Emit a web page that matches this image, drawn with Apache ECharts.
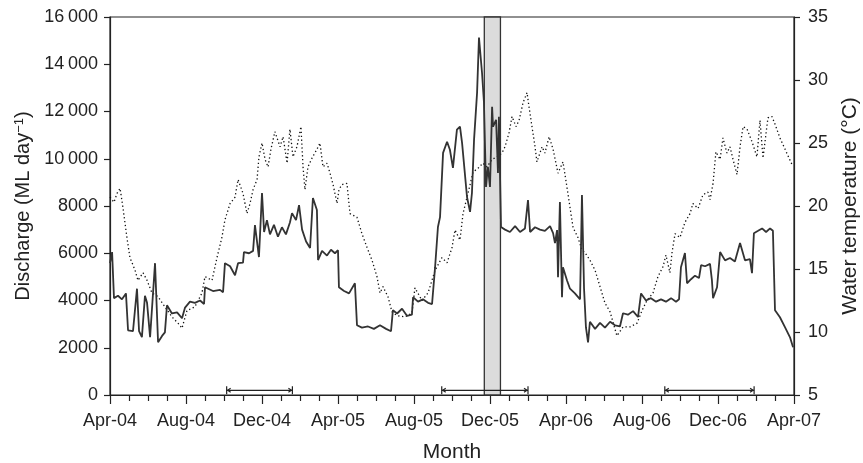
<!DOCTYPE html>
<html>
<head>
<meta charset="utf-8">
<script src="https://cdn.jsdelivr.net/npm/echarts@6/dist/echarts.min.js"></script>
<style>
  html, body { margin: 0; padding: 0; background: #fff; }
  #chart { width: 863px; height: 463px; }
</style>
</head>
<body>
<div id="chart"></div>
<script>
// x values are months elapsed since the start of April 2004
const monthLabels = ['Apr-04', 'Aug-04', 'Dec-04', 'Apr-05', 'Aug-05', 'Dec-05', 'Apr-06', 'Aug-06', 'Dec-06', 'Apr-07'];
const dischargeTickLabels = ['0', '2000', '4000', '6000', '8000', '10\u2009000', '12\u2009000', '14\u2009000', '16\u2009000'];
const temperatureTickLabels = ['5', '10', '15', '20', '25', '30', '35'];

// Daily discharge (ML day^-1)
const dischargeMonth = [
  0.00, 0.11, 0.21, 0.42, 0.63, 0.84, 0.95, 1.21, 1.42, 1.53, 1.68, 1.84, 1.95, 2.11, 2.37, 2.53, 2.74, 2.89,
  3.00, 3.26, 3.53, 3.79, 3.95, 4.21, 4.47, 4.74, 4.95, 5.00, 5.42, 5.79, 5.95,
  6.05, 6.32, 6.58, 6.74, 7.00, 7.05, 7.32, 7.53, 7.63, 7.84, 8.00, 8.11, 8.26, 8.42, 8.63, 8.84,
  9.05, 9.26, 9.47, 9.58, 9.79, 9.95, 10.11, 10.32, 10.53, 10.68, 10.89, 10.95, 11.16, 11.42, 11.63, 11.84, 12.00,
  12.05, 12.32, 12.58, 12.89, 13.00, 13.26, 13.58, 13.89, 14.21, 14.53, 14.79, 14.89, 15.11, 15.37, 15.63, 15.89,
  15.95, 16.21, 16.47, 16.74, 16.95, 17.11, 17.26, 17.37, 17.53, 17.74, 17.89, 18.05, 18.26, 18.42, 18.53,
  18.79, 18.95, 19.05, 19.16, 19.32, 19.42, 19.58, 19.68, 19.79, 19.89, 20.00, 20.11, 20.16, 20.32, 20.42, 20.47, 20.58,
  20.79, 21.05, 21.32, 21.58, 21.84, 22.00, 22.11, 22.37, 22.63, 22.89, 23.16, 23.32, 23.42, 23.53, 23.58, 23.68, 23.79, 23.84,
  24.05, 24.21, 24.47, 24.74, 24.84, 24.95, 25.05, 25.16, 25.26, 25.53, 25.79, 26.05, 26.32, 26.58, 26.84,
  27.00, 27.26, 27.53, 27.79, 27.95, 28.21, 28.47, 28.74, 29.00, 29.26, 29.53, 29.79, 29.95,
  30.05, 30.26, 30.37, 30.58, 30.79, 31.00, 31.11, 31.32, 31.58, 31.68, 31.74, 31.95,
  32.11, 32.37, 32.63, 32.89, 33.16, 33.42, 33.68, 33.79, 33.89, 34.11, 34.32, 34.53, 34.74, 34.89,
  35.00, 35.26, 35.53, 35.79, 35.95
];
const dischargeValue = [
  5580, 6050, 4100, 4200, 4050, 4300, 2740, 2700, 4500, 2700, 2450, 4200, 3900, 2450, 5580, 2230, 2500, 2650,
  3800, 3450, 3500, 3250, 3700, 3950, 3900, 4000, 3850, 4560, 4400, 4450, 4350,
  5580, 5450, 5070, 5580, 5600, 6050, 6000, 6100, 7190, 5840, 8550, 6900, 7400, 6800, 7200, 6700,
  7100, 6800, 7300, 7700, 7400, 8040, 7000, 6500, 6220, 8340, 7830, 5710, 6100, 5900, 6150, 6000, 6130,
  4560, 4400, 4300, 4730, 2950, 2850, 2900, 2800, 2950, 2800, 2700, 3590, 3450, 3650, 3350, 3400,
  4140, 3950, 4050, 3900, 3850, 5410, 7110, 7530, 10250, 10720, 10380, 9610, 11230, 11360, 10670,
  8380, 7750, 8550, 10800, 12800, 15130, 13640, 12410, 8810, 9660, 8810, 12200, 11360, 11650, 9400, 11780, 7110,
  7000, 6900, 7150, 6900, 7050, 8250, 6900, 7100, 7000, 6950, 7150, 6850, 6430, 6980, 4990, 8170, 4140, 5410,
  4860, 4500, 4300, 4050, 8470, 4500, 2860, 2230, 3100, 2800, 3050, 2850, 3100, 2950, 2900,
  3460, 3400, 3550, 3300, 4300, 4000, 4100, 3950, 4050, 3950, 4100, 3950, 4050,
  5410, 6010, 4730, 4900, 5050, 4950, 5500, 5450, 5550, 4860, 4100, 4560,
  6050, 5700, 5800, 5650, 6430, 5700, 5750, 5160, 6850, 6950, 7050, 6900, 7050, 6950,
  3590, 3290, 2860, 2440, 2020
];

// Daily water temperature (°C)
const temperatureMonth = [
  0.00, 0.21, 0.37, 0.53, 0.68, 0.89, 1.05, 1.32, 1.47, 1.74, 1.95, 2.21, 2.53, 2.89, 3.26, 3.58, 3.79,
  4.05, 4.47, 4.84, 5.00, 5.37, 5.63, 5.89, 6.05, 6.32, 6.58, 6.74, 7.00, 7.21, 7.37, 7.53, 7.74, 7.84,
  8.00, 8.16, 8.32, 8.47, 8.68, 8.95, 9.11, 9.32, 9.47, 9.63, 9.84, 10.05, 10.16, 10.26, 10.42, 10.63, 10.89,
  11.05, 11.21, 11.42, 11.58, 11.74, 11.95, 12.05, 12.21, 12.47, 12.63, 13.00, 13.26, 13.53, 13.79, 14.05,
  14.21, 14.37, 14.63, 14.84, 15.11, 15.53, 15.89, 16.05, 16.42, 16.74, 17.11, 17.47, 17.74, 18.00, 18.16,
  18.42, 18.58, 18.84, 19.11, 19.37, 19.63, 19.84, 20.11, 20.37, 20.63, 20.79, 21.00, 21.16, 21.37, 21.53,
  21.74, 21.95, 22.05, 22.21, 22.37, 22.47, 22.74, 22.89, 23.11, 23.32, 23.58, 23.84, 24.05, 24.21, 24.37,
  24.63, 24.84, 25.00, 25.26, 25.53, 25.79, 26.05, 26.32, 26.68, 27.00, 27.37, 27.74, 28.00, 28.26, 28.58,
  28.84, 29.11, 29.26, 29.47, 29.58, 29.74, 30.00, 30.26, 30.53, 30.68, 30.95, 31.21, 31.47, 31.58, 31.74,
  31.89, 32.11, 32.26, 32.47, 32.63, 32.79, 33.00, 33.16, 33.32, 33.53, 33.79, 34.05, 34.21, 34.37, 34.53,
  34.63, 34.84, 35.00, 35.26, 35.53, 35.89
];
const temperatureValue = [
  20.7, 20.3, 21.0, 21.4, 19.9, 17.5, 15.9, 14.9, 14.1, 14.7, 14.1, 13.1, 12.8, 12.0, 11.2, 10.7, 10.3,
  11.7, 12.0, 13.1, 14.4, 14.1, 15.9, 17.5, 18.9, 20.2, 20.7, 22.1, 21.0, 19.4, 20.2, 21.3, 22.1, 23.9,
  25.0, 23.7, 23.1, 24.5, 25.9, 24.7, 25.5, 23.4, 26.1, 23.9, 24.7, 26.3, 23.1, 21.3, 23.1, 23.8, 24.5,
  25.0, 23.1, 23.4, 22.6, 21.7, 20.2, 21.3, 21.7, 21.8, 19.4, 19.1, 17.8, 16.7, 15.7, 14.4,
  13.1, 13.6, 12.8, 11.6, 11.3, 11.2, 11.5, 13.5, 12.5, 13.1, 14.9, 15.9, 15.5, 16.7, 18.1,
  17.3, 19.4, 21.0, 22.7, 23.0, 23.4, 23.1, 23.7, 23.9, 24.2, 24.7, 25.8, 27.1, 26.3, 26.8,
  28.2, 29.0, 27.9, 26.3, 24.7, 23.5, 24.7, 24.2, 25.5, 24.5, 22.6, 23.5, 21.5, 19.9, 18.3,
  17.5, 16.5, 16.3, 15.7, 14.9, 13.6, 12.3, 11.6, 9.7, 10.4, 10.4, 10.7, 11.7, 12.5, 13.1,
  14.4, 15.2, 16.1, 14.7, 16.3, 17.8, 17.5, 18.7, 19.4, 20.2, 19.8, 20.9, 21.1, 20.5, 21.8,
  24.3, 23.7, 25.4, 24.2, 24.7, 23.7, 22.5, 24.7, 26.3, 26.1, 25.1, 23.9, 26.8, 23.8, 25.8,
  27.0, 27.1, 26.5, 25.4, 24.5, 23.3
];

// Shaded event window and the three bracketed sampling periods
const shadedPeriod = [19.7, 20.55];
const periodStart = [6.14, 17.46, 29.2];
const periodEnd = [9.6, 22.0, 33.9];
const periodLevel = 200;

const FONT = "'Liberation Sans', Arial, Helvetica, sans-serif";
const INK = '#222';

const zip = (xs, ys) => xs.map((x, i) => [x, ys[i]]);

const chart = echarts.init(document.getElementById('chart'), null, { renderer: 'canvas' });

chart.setOption({
  animation: false,
  backgroundColor: '#fff',
  grid: {
    left: 110, right: 69, top: 17, bottom: 68,
    outerBoundsMode: 'none', containLabel: false,
    show: true, borderColor: INK, borderWidth: 1.2, backgroundColor: 'transparent'
  },
  xAxis: {
    type: 'value', min: 0, max: 36, interval: 4,
    name: 'Month', nameLocation: 'middle', nameGap: 47,
    nameTextStyle: { fontFamily: FONT, fontSize: 21, color: INK },
    axisLine: { show: true, lineStyle: { color: INK, width: 1.2 } },
    axisTick: { show: true, inside: false, length: 9, lineStyle: { color: INK, width: 1.2 } },
    minorTick: { show: true, splitNumber: 4, length: 6, lineStyle: { color: INK, width: 1.2 } },
    axisLabel: { fontFamily: FONT, fontSize: 18, color: INK, margin: 17, formatter: v => monthLabels[Math.round(v / 4)] },
    splitLine: { show: false }
  },
  yAxis: [
    {
      type: 'value', min: 0, max: 16000, interval: 2000, position: 'left',
      name: 'Discharge (ML day{sup|\u22121})', nameLocation: 'middle', nameGap: 65, nameRotate: 90,
      nameTextStyle: { fontFamily: FONT, fontSize: 20, color: INK, rich: { sup: { fontFamily: FONT, fontSize: 13, color: INK, verticalAlign: 'top', padding: [0, 0, 9, 0] } } },
      axisLine: { show: true, lineStyle: { color: INK, width: 1.2 } },
      axisTick: { show: true, length: 6, lineStyle: { color: INK, width: 1.2 } },
      axisLabel: { fontFamily: FONT, fontSize: 18, color: INK, margin: 12, formatter: v => dischargeTickLabels[Math.round(v / 2000)] },
      splitLine: { show: false }
    },
    {
      type: 'value', min: 5, max: 35, interval: 5, position: 'right',
      name: 'Water temperature (°C)', nameLocation: 'middle', nameGap: 46, nameRotate: 90,
      nameTextStyle: { fontFamily: FONT, fontSize: 21, color: INK },
      axisLine: { show: true, lineStyle: { color: INK, width: 1.2 } },
      axisTick: { show: true, length: 6, lineStyle: { color: INK, width: 1.2 } },
      axisLabel: { fontFamily: FONT, fontSize: 18, color: INK, margin: 14, formatter: v => temperatureTickLabels[Math.round((v - 5) / 5)] },
      splitLine: { show: false }
    }
  ],
  series: [
    {
      name: 'event', type: 'line', data: [], z: 1, silent: true,
      markArea: {
        silent: true,
        itemStyle: { color: '#dcdcdc', borderColor: '#333', borderWidth: 1.3 },
        data: [[{ xAxis: shadedPeriod[0] }, { xAxis: shadedPeriod[1] }]]
      }
    },
    {
      name: 'Water temperature', type: 'line', yAxisIndex: 1, z: 3,
      data: zip(temperatureMonth, temperatureValue),
      showSymbol: false, symbol: 'none',
      lineStyle: { color: '#111', width: 1.3, type: [1.3, 2.6] }
    },
    {
      name: 'Discharge', type: 'line', yAxisIndex: 0, z: 4,
      data: zip(dischargeMonth, dischargeValue),
      showSymbol: false, symbol: 'none',
      lineStyle: { color: '#333', width: 1.8 }
    },
    {
      name: 'periods', type: 'custom', yAxisIndex: 0, z: 5, silent: true,
      data: periodStart.map((s, i) => [s, periodEnd[i], periodLevel]),
      encode: { x: [0, 1], y: 2 },
      renderItem: (params, api) => {
        const a = api.coord([api.value(0), api.value(2)]);
        const b = api.coord([api.value(1), api.value(2)]);
        const st = { stroke: INK, lineWidth: 1.2 };
        const h = 4;
        return {
          type: 'group',
          children: [
            { type: 'line', shape: { x1: a[0], y1: a[1], x2: b[0], y2: b[1] }, style: st },
            { type: 'line', shape: { x1: a[0], y1: a[1] - h, x2: a[0], y2: a[1] + h }, style: st },
            { type: 'line', shape: { x1: b[0], y1: b[1] - h, x2: b[0], y2: b[1] + h }, style: st },
            { type: 'polyline', shape: { points: [[a[0] + 4, a[1] - 2], [a[0] + 1, a[1]], [a[0] + 4, a[1] + 2]] }, style: Object.assign({ fill: null }, st) },
            { type: 'polyline', shape: { points: [[b[0] - 4, b[1] - 2], [b[0] - 1, b[1]], [b[0] - 4, b[1] + 2]] }, style: Object.assign({ fill: null }, st) }
          ]
        };
      }
    }
  ]
});
</script>
</body>
</html>
